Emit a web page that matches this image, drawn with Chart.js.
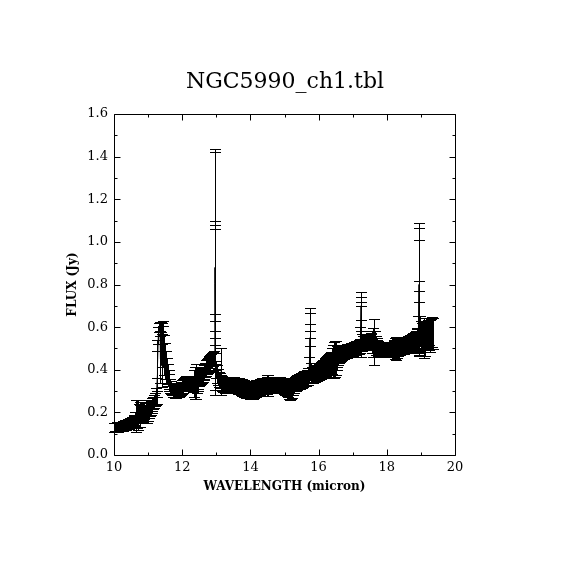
<!DOCTYPE html>
<html>
<head>
<meta charset="utf-8">
<title>NGC5990_ch1.tbl</title>
<script src="https://cdn.jsdelivr.net/npm/chart.js@4.4.0/dist/chart.umd.min.js"></script>
<style>
  html, body { margin: 0; padding: 0; background: #fff; }
  #wrap { width: 570px; height: 570px; }
</style>
</head>
<body>
<div id="wrap"><canvas id="spectrum" width="570" height="570"></canvas></div>
<script>
// spectrum: wavelength (micron), flux (Jy), 1-sigma error (Jy)
// one line per 0.2 micron; repeated wavelengths are the overlapping points at the lines
const wavelength = [
  10.000, 10.025, 10.050, 10.075, 10.100, 10.125, 10.150, 10.175,
  10.200, 10.225, 10.250, 10.275, 10.300, 10.325, 10.350, 10.375,
  10.400, 10.425, 10.450, 10.475, 10.500, 10.525, 10.550, 10.575,
  10.600, 10.625, 10.650, 10.675, 10.700, 10.725, 10.750, 10.775,
  10.800, 10.825, 10.850, 10.875, 10.900, 10.925, 10.950, 10.975,
  11.000, 11.025, 11.050, 11.075, 11.100, 11.125, 11.150, 11.175,
  11.200, 11.225, 11.250, 11.275, 11.275, 11.300, 11.325, 11.350, 11.350, 11.375,
  11.400, 11.400, 11.425, 11.450, 11.475, 11.500, 11.525, 11.550, 11.575,
  11.600, 11.625, 11.650, 11.675, 11.700, 11.725, 11.750, 11.775,
  11.800, 11.825, 11.850, 11.875, 11.900, 11.925, 11.950, 11.975,
  12.000, 12.025, 12.050, 12.075, 12.100, 12.125, 12.150, 12.175,
  12.200, 12.225, 12.250, 12.275, 12.300, 12.325, 12.350, 12.375,
  12.400, 12.425, 12.450, 12.475, 12.500, 12.525, 12.550, 12.575,
  12.600, 12.625, 12.650, 12.675, 12.700, 12.725, 12.750, 12.775,
  12.800, 12.825, 12.850, 12.875, 12.900, 12.925, 12.950, 12.960, 12.960, 12.960, 12.960, 12.960, 12.960, 12.975,
  13.000, 13.025, 13.050, 13.075, 13.100, 13.125, 13.150, 13.175,
  13.200, 13.225, 13.250, 13.275, 13.300, 13.325, 13.350, 13.375,
  13.400, 13.425, 13.450, 13.475, 13.500, 13.525, 13.550, 13.575,
  13.600, 13.625, 13.650, 13.675, 13.700, 13.725, 13.750, 13.775,
  13.800, 13.825, 13.850, 13.875, 13.900, 13.925, 13.950, 13.975,
  14.000, 14.025, 14.050, 14.075, 14.100, 14.125, 14.150, 14.175,
  14.200, 14.225, 14.250, 14.275, 14.300, 14.325, 14.350, 14.375,
  14.400, 14.425, 14.450, 14.475, 14.500, 14.525, 14.550, 14.575,
  14.600, 14.625, 14.650, 14.675, 14.700, 14.725, 14.750, 14.775,
  14.800, 14.825, 14.850, 14.875, 14.900, 14.925, 14.950, 14.975,
  15.000, 15.025, 15.050, 15.075, 15.100, 15.125, 15.150, 15.175,
  15.200, 15.225, 15.250, 15.275, 15.300, 15.325, 15.350, 15.375,
  15.400, 15.425, 15.450, 15.475, 15.500, 15.525, 15.550, 15.575,
  15.600, 15.625, 15.650, 15.675, 15.700, 15.725, 15.750, 15.750, 15.750, 15.750, 15.750, 15.750, 15.775,
  15.800, 15.825, 15.850, 15.875, 15.900, 15.925, 15.950, 15.975,
  16.000, 16.025, 16.050, 16.075, 16.100, 16.125, 16.150, 16.175,
  16.200, 16.225, 16.250, 16.275, 16.300, 16.325, 16.350, 16.375,
  16.400, 16.425, 16.450, 16.475, 16.500, 16.525, 16.550, 16.575,
  16.600, 16.625, 16.650, 16.675, 16.700, 16.725, 16.750, 16.775,
  16.800, 16.825, 16.850, 16.875, 16.900, 16.925, 16.950, 16.975,
  17.000, 17.025, 17.050, 17.075, 17.100, 17.125, 17.150, 17.175,
  17.200, 17.225, 17.250, 17.250, 17.250, 17.250, 17.275, 17.300, 17.325, 17.350, 17.375,
  17.400, 17.425, 17.450, 17.475, 17.500, 17.525, 17.550, 17.575,
  17.600, 17.625, 17.650, 17.675, 17.700, 17.725, 17.750, 17.775,
  17.800, 17.825, 17.850, 17.875, 17.900, 17.925, 17.950, 17.975,
  18.000, 18.025, 18.050, 18.075, 18.100, 18.125, 18.150, 18.175,
  18.200, 18.225, 18.250, 18.275, 18.300, 18.325, 18.350, 18.375,
  18.400, 18.425, 18.450, 18.475, 18.500, 18.525, 18.550, 18.575,
  18.600, 18.625, 18.650, 18.675, 18.700, 18.725, 18.750, 18.775,
  18.800, 18.825, 18.850, 18.875, 18.900, 18.925, 18.950, 18.950, 18.950, 18.950, 18.950, 18.950, 18.975,
  19.000, 19.025, 19.050, 19.075, 19.100, 19.125, 19.150, 19.175,
  19.200, 19.225, 19.250, 19.275, 19.300, 19.325, 19.350
];
const flux = [
  0.128, 0.132, 0.127, 0.130, 0.133, 0.129, 0.131, 0.134,
  0.132, 0.136, 0.134, 0.138, 0.137, 0.141, 0.139, 0.143,
  0.145, 0.148, 0.146, 0.151, 0.150, 0.155, 0.153, 0.158,
  0.163, 0.172, 0.185, 0.192, 0.188, 0.195, 0.190, 0.193,
  0.190, 0.196, 0.192, 0.198, 0.195, 0.200, 0.197, 0.203,
  0.205, 0.210, 0.215, 0.222, 0.228, 0.236, 0.244, 0.252,
  0.262, 0.275, 0.300, 0.380, 0.420, 0.560, 0.598, 0.602, 0.450, 0.600,
  0.595, 0.420, 0.560, 0.510, 0.470, 0.440, 0.415, 0.395, 0.375,
  0.355, 0.340, 0.325, 0.315, 0.308, 0.302, 0.300, 0.298,
  0.300, 0.297, 0.301, 0.299, 0.302, 0.305, 0.308, 0.312,
  0.318, 0.325, 0.330, 0.334, 0.336, 0.338, 0.335, 0.337,
  0.338, 0.336, 0.334, 0.337, 0.335, 0.333, 0.336, 0.338,
  0.345, 0.352, 0.348, 0.355, 0.360, 0.362, 0.368, 0.372,
  0.378, 0.385, 0.392, 0.400, 0.408, 0.415, 0.420, 0.425,
  0.430, 0.435, 0.440, 0.445, 0.450, 0.455, 0.470, 0.870, 0.850, 0.880, 0.855, 0.830, 0.805, 0.440,
  0.400, 0.380, 0.365, 0.355, 0.350, 0.390, 0.340, 0.335,
  0.332, 0.330, 0.328, 0.327, 0.326, 0.325, 0.327, 0.326,
  0.326, 0.327, 0.325, 0.328, 0.326, 0.327, 0.325, 0.326,
  0.325, 0.324, 0.322, 0.323, 0.320, 0.318, 0.317, 0.315,
  0.314, 0.312, 0.310, 0.309, 0.308, 0.306, 0.305, 0.304,
  0.303, 0.304, 0.305, 0.306, 0.307, 0.309, 0.310, 0.312,
  0.313, 0.315, 0.317, 0.318, 0.320, 0.322, 0.323, 0.325,
  0.325, 0.326, 0.327, 0.328, 0.327, 0.326, 0.327, 0.328,
  0.328, 0.327, 0.329, 0.328, 0.330, 0.329, 0.328, 0.330,
  0.329, 0.330, 0.328, 0.329, 0.327, 0.326, 0.325, 0.323,
  0.322, 0.320, 0.318, 0.315, 0.312, 0.308, 0.305, 0.303,
  0.305, 0.310, 0.318, 0.325, 0.332, 0.336, 0.338, 0.340,
  0.342, 0.344, 0.346, 0.348, 0.350, 0.352, 0.355, 0.357,
  0.358, 0.360, 0.362, 0.365, 0.370, 0.400, 0.550, 0.520, 0.500, 0.480, 0.460, 0.430, 0.390,
  0.375, 0.372, 0.374, 0.377, 0.380, 0.382, 0.384, 0.387,
  0.390, 0.392, 0.395, 0.398, 0.400, 0.403, 0.406, 0.409,
  0.412, 0.416, 0.420, 0.424, 0.428, 0.431, 0.434, 0.437,
  0.440, 0.443, 0.446, 0.450, 0.454, 0.458, 0.463, 0.468,
  0.472, 0.476, 0.479, 0.481, 0.483, 0.484, 0.485, 0.486,
  0.487, 0.488, 0.489, 0.490, 0.491, 0.492, 0.494, 0.495,
  0.496, 0.497, 0.499, 0.500, 0.502, 0.504, 0.506, 0.508,
  0.512, 0.540, 0.700, 0.660, 0.620, 0.580, 0.530, 0.525, 0.526, 0.528, 0.530,
  0.531, 0.533, 0.534, 0.535, 0.534, 0.533, 0.532, 0.530,
  0.528, 0.530, 0.520, 0.515, 0.510, 0.505, 0.500, 0.498,
  0.497, 0.496, 0.495, 0.495, 0.496, 0.497, 0.496, 0.495,
  0.496, 0.497, 0.497, 0.496, 0.495, 0.496, 0.497, 0.498,
  0.499, 0.500, 0.500, 0.501, 0.500, 0.502, 0.503, 0.504,
  0.505, 0.507, 0.508, 0.510, 0.512, 0.513, 0.514, 0.516,
  0.517, 0.518, 0.520, 0.521, 0.523, 0.525, 0.527, 0.529,
  0.531, 0.534, 0.538, 0.542, 0.548, 0.570, 0.800, 0.790, 0.760, 0.640, 0.620, 0.600, 0.580,
  0.565, 0.560, 0.555, 0.558, 0.550, 0.545, 0.560, 0.565,
  0.570, 0.565, 0.575, 0.560, 0.572, 0.578, 0.570
];
const fluxErr = [
  0.020, 0.018, 0.021, 0.019, 0.020, 0.022, 0.019, 0.020,
  0.021, 0.020, 0.022, 0.020, 0.021, 0.022, 0.020, 0.023,
  0.022, 0.021, 0.024, 0.022, 0.023, 0.025, 0.022, 0.024,
  0.026, 0.030, 0.075, 0.065, 0.070, 0.045, 0.060, 0.040,
  0.032, 0.030, 0.035, 0.030, 0.034, 0.050, 0.045, 0.055,
  0.045, 0.035, 0.030, 0.032, 0.030, 0.031, 0.030, 0.030,
  0.030, 0.040, 0.060, 0.110, 0.120, 0.040, 0.022, 0.020, 0.110, 0.022,
  0.025, 0.100, 0.070, 0.095, 0.095, 0.085, 0.075, 0.060, 0.050,
  0.045, 0.040, 0.032, 0.030, 0.028, 0.030, 0.028, 0.030,
  0.030, 0.028, 0.030, 0.029, 0.030, 0.030, 0.031, 0.030,
  0.032, 0.033, 0.032, 0.033, 0.034, 0.032, 0.033, 0.035,
  0.033, 0.034, 0.035, 0.033, 0.034, 0.036, 0.065, 0.075,
  0.080, 0.060, 0.050, 0.045, 0.038, 0.035, 0.034, 0.035,
  0.034, 0.035, 0.035, 0.034, 0.036, 0.035, 0.034, 0.035,
  0.034, 0.035, 0.034, 0.035, 0.034, 0.035, 0.045, 0.565, 0.570, 0.220, 0.225, 0.250, 0.255, 0.040,
  0.040, 0.040, 0.038, 0.036, 0.035, 0.110, 0.034, 0.034,
  0.035, 0.036, 0.035, 0.034, 0.036, 0.035, 0.035, 0.036,
  0.036, 0.035, 0.036, 0.035, 0.036, 0.037, 0.035, 0.036,
  0.036, 0.035, 0.036, 0.037, 0.036, 0.037, 0.038, 0.037,
  0.038, 0.038, 0.039, 0.040, 0.038, 0.040, 0.039, 0.040,
  0.040, 0.039, 0.040, 0.041, 0.040, 0.039, 0.040, 0.038,
  0.038, 0.037, 0.036, 0.037, 0.036, 0.035, 0.036, 0.035,
  0.035, 0.036, 0.036, 0.040, 0.050, 0.048, 0.036, 0.035,
  0.035, 0.036, 0.035, 0.036, 0.035, 0.036, 0.035, 0.036,
  0.035, 0.036, 0.035, 0.036, 0.035, 0.036, 0.035, 0.036,
  0.036, 0.037, 0.038, 0.040, 0.042, 0.045, 0.043, 0.045,
  0.044, 0.042, 0.038, 0.036, 0.034, 0.035, 0.034, 0.035,
  0.034, 0.035, 0.034, 0.035, 0.034, 0.035, 0.034, 0.035,
  0.035, 0.034, 0.035, 0.036, 0.040, 0.060, 0.140, 0.145, 0.115, 0.100, 0.090, 0.080, 0.040,
  0.036, 0.035, 0.036, 0.035, 0.036, 0.037, 0.036, 0.035,
  0.036, 0.037, 0.038, 0.040, 0.039, 0.041, 0.040, 0.042,
  0.043, 0.044, 0.045, 0.046, 0.045, 0.047, 0.046, 0.048,
  0.060, 0.075, 0.085, 0.085, 0.080, 0.060, 0.050, 0.045,
  0.040, 0.040, 0.038, 0.036, 0.035, 0.034, 0.033, 0.032,
  0.030, 0.031, 0.030, 0.031, 0.030, 0.031, 0.030, 0.031,
  0.031, 0.030, 0.031, 0.030, 0.031, 0.030, 0.031, 0.032,
  0.032, 0.060, 0.065, 0.080, 0.100, 0.120, 0.040, 0.033, 0.033, 0.034, 0.033,
  0.034, 0.033, 0.034, 0.035, 0.034, 0.036, 0.040, 0.050,
  0.070, 0.110, 0.060, 0.045, 0.040, 0.036, 0.035, 0.034,
  0.034, 0.033, 0.034, 0.033, 0.034, 0.035, 0.034, 0.033,
  0.033, 0.034, 0.033, 0.034, 0.035, 0.034, 0.033, 0.034,
  0.034, 0.040, 0.050, 0.055, 0.045, 0.036, 0.034, 0.035,
  0.034, 0.035, 0.034, 0.035, 0.036, 0.035, 0.036, 0.037,
  0.038, 0.039, 0.040, 0.041, 0.040, 0.042, 0.041, 0.043,
  0.043, 0.044, 0.046, 0.048, 0.050, 0.080, 0.290, 0.275, 0.250, 0.175, 0.150, 0.120, 0.070,
  0.065, 0.060, 0.070, 0.060, 0.095, 0.080, 0.060, 0.065,
  0.065, 0.070, 0.060, 0.075, 0.065, 0.070, 0.072
];

const xMajorTicks = [10, 12, 14, 16, 18, 20];
const xMinorTicks = [11, 13, 15, 17, 19];
const yMajorTicks = [0.0, 0.2, 0.4, 0.6, 0.8, 1.0, 1.2, 1.4, 1.6];
const yMinorTicks = [0.1, 0.3, 0.5, 0.7, 0.9, 1.1, 1.3, 1.5];

const crisp = v => Math.round(v) + 0.5;

// error bars with flat caps, drawn through the chart's scales
const errorBars = {
  id: "errorBars",
  afterDatasetsDraw(chart) {
    const { ctx, scales: { x, y } } = chart;
    ctx.save();
    ctx.strokeStyle = "#000";
    ctx.lineWidth = 1;
    ctx.beginPath();
    for (let i = 0; i < wavelength.length; i++) {
      const px = crisp(x.getPixelForValue(wavelength[i]));
      const hi = crisp(y.getPixelForValue(flux[i] + fluxErr[i]));
      const lo = crisp(y.getPixelForValue(flux[i] - fluxErr[i]));
      ctx.moveTo(px, hi); ctx.lineTo(px, lo);
      ctx.moveTo(px - 5.5, hi); ctx.lineTo(px + 5.5, hi);
      ctx.moveTo(px - 5.5, lo); ctx.lineTo(px + 5.5, lo);
    }
    ctx.stroke();
    ctx.restore();
  }
};

// box round the plot and inward ticks on all four sides
const frameTicks = {
  id: "frameTicks",
  afterDraw(chart) {
    const { ctx, chartArea: a, scales: { x, y } } = chart;
    const L = crisp(a.left), R = crisp(a.right), T = crisp(a.top), B = crisp(a.bottom);
    ctx.save();
    ctx.strokeStyle = "#000";
    ctx.lineWidth = 1;
    ctx.beginPath();
    ctx.rect(L, T, R - L, B - T);
    const xt = (v, len) => {
      const p = crisp(x.getPixelForValue(v));
      ctx.moveTo(p, B); ctx.lineTo(p, B - len);
      ctx.moveTo(p, T); ctx.lineTo(p, T + len);
    };
    const yt = (v, len) => {
      const p = crisp(y.getPixelForValue(v));
      ctx.moveTo(L, p); ctx.lineTo(L + len, p);
      ctx.moveTo(R, p); ctx.lineTo(R - len, p);
    };
    xMajorTicks.forEach(v => xt(v, 6));
    xMinorTicks.forEach(v => xt(v, 3));
    yMajorTicks.forEach(v => yt(v, 6));
    yMinorTicks.forEach(v => yt(v, 3));
    ctx.stroke();
    ctx.restore();
  }
};

Chart.defaults.font.family = "'DejaVu Serif', serif";
Chart.defaults.color = "#000";

new Chart(document.getElementById("spectrum"), {
  type: "scatter",
  data: {
    datasets: [{
      label: "NGC5990",
      data: wavelength.map((w, i) => ({ x: w, y: flux[i] })),
      showLine: true,
      borderColor: "#000",
      borderWidth: 1,
      pointRadius: 0,
      tension: 0
    }]
  },
  options: {
    responsive: false,
    animation: false,
    devicePixelRatio: 1,
    layout: { padding: 0 },
    plugins: {
      legend: { display: false },
      tooltip: { enabled: false },
      title: {
        display: true,
        text: "NGC5990_ch1.tbl",
        color: "#000",
        font: { size: 22, weight: "normal" },
        padding: { top: 69, bottom: 18.6 }
      }
    },
    scales: {
      x: {
        type: "linear",
        min: 10,
        max: 20,
        afterFit: s => { s.height = 115; },
        grid: { display: false, drawTicks: false },
        border: { display: false },
        ticks: {
          stepSize: 2,
          padding: 5,
          maxRotation: 0,
          font: { size: 13 },
          callback: v => String(v)
        },
        title: {
          display: true,
          text: "WAVELENGTH (micron)",
          font: { size: 12, weight: "bold" },
          padding: { top: 0, bottom: 76 }
        }
      },
      y: {
        min: 0,
        max: 1.6,
        afterFit: s => { s.width = 114; },
        grid: { display: false, drawTicks: false },
        border: { display: false },
        ticks: {
          stepSize: 0.2,
          padding: 6,
          font: { size: 13 },
          callback: v => v.toFixed(1)
        },
        title: {
          display: true,
          text: "FLUX (Jy)",
          font: { size: 12, weight: "bold" },
          padding: { top: 66, bottom: 0 }
        }
      },
      // empty right-hand box so the title centres on the whole page
      yRight: {
        position: "right",
        min: 0,
        max: 1.6,
        afterFit: s => { s.width = 115; },
        grid: { display: false, drawTicks: false },
        border: { display: false },
        ticks: { display: false }
      }
    }
  },
  plugins: [errorBars, frameTicks]
});
</script>
</body>
</html>
